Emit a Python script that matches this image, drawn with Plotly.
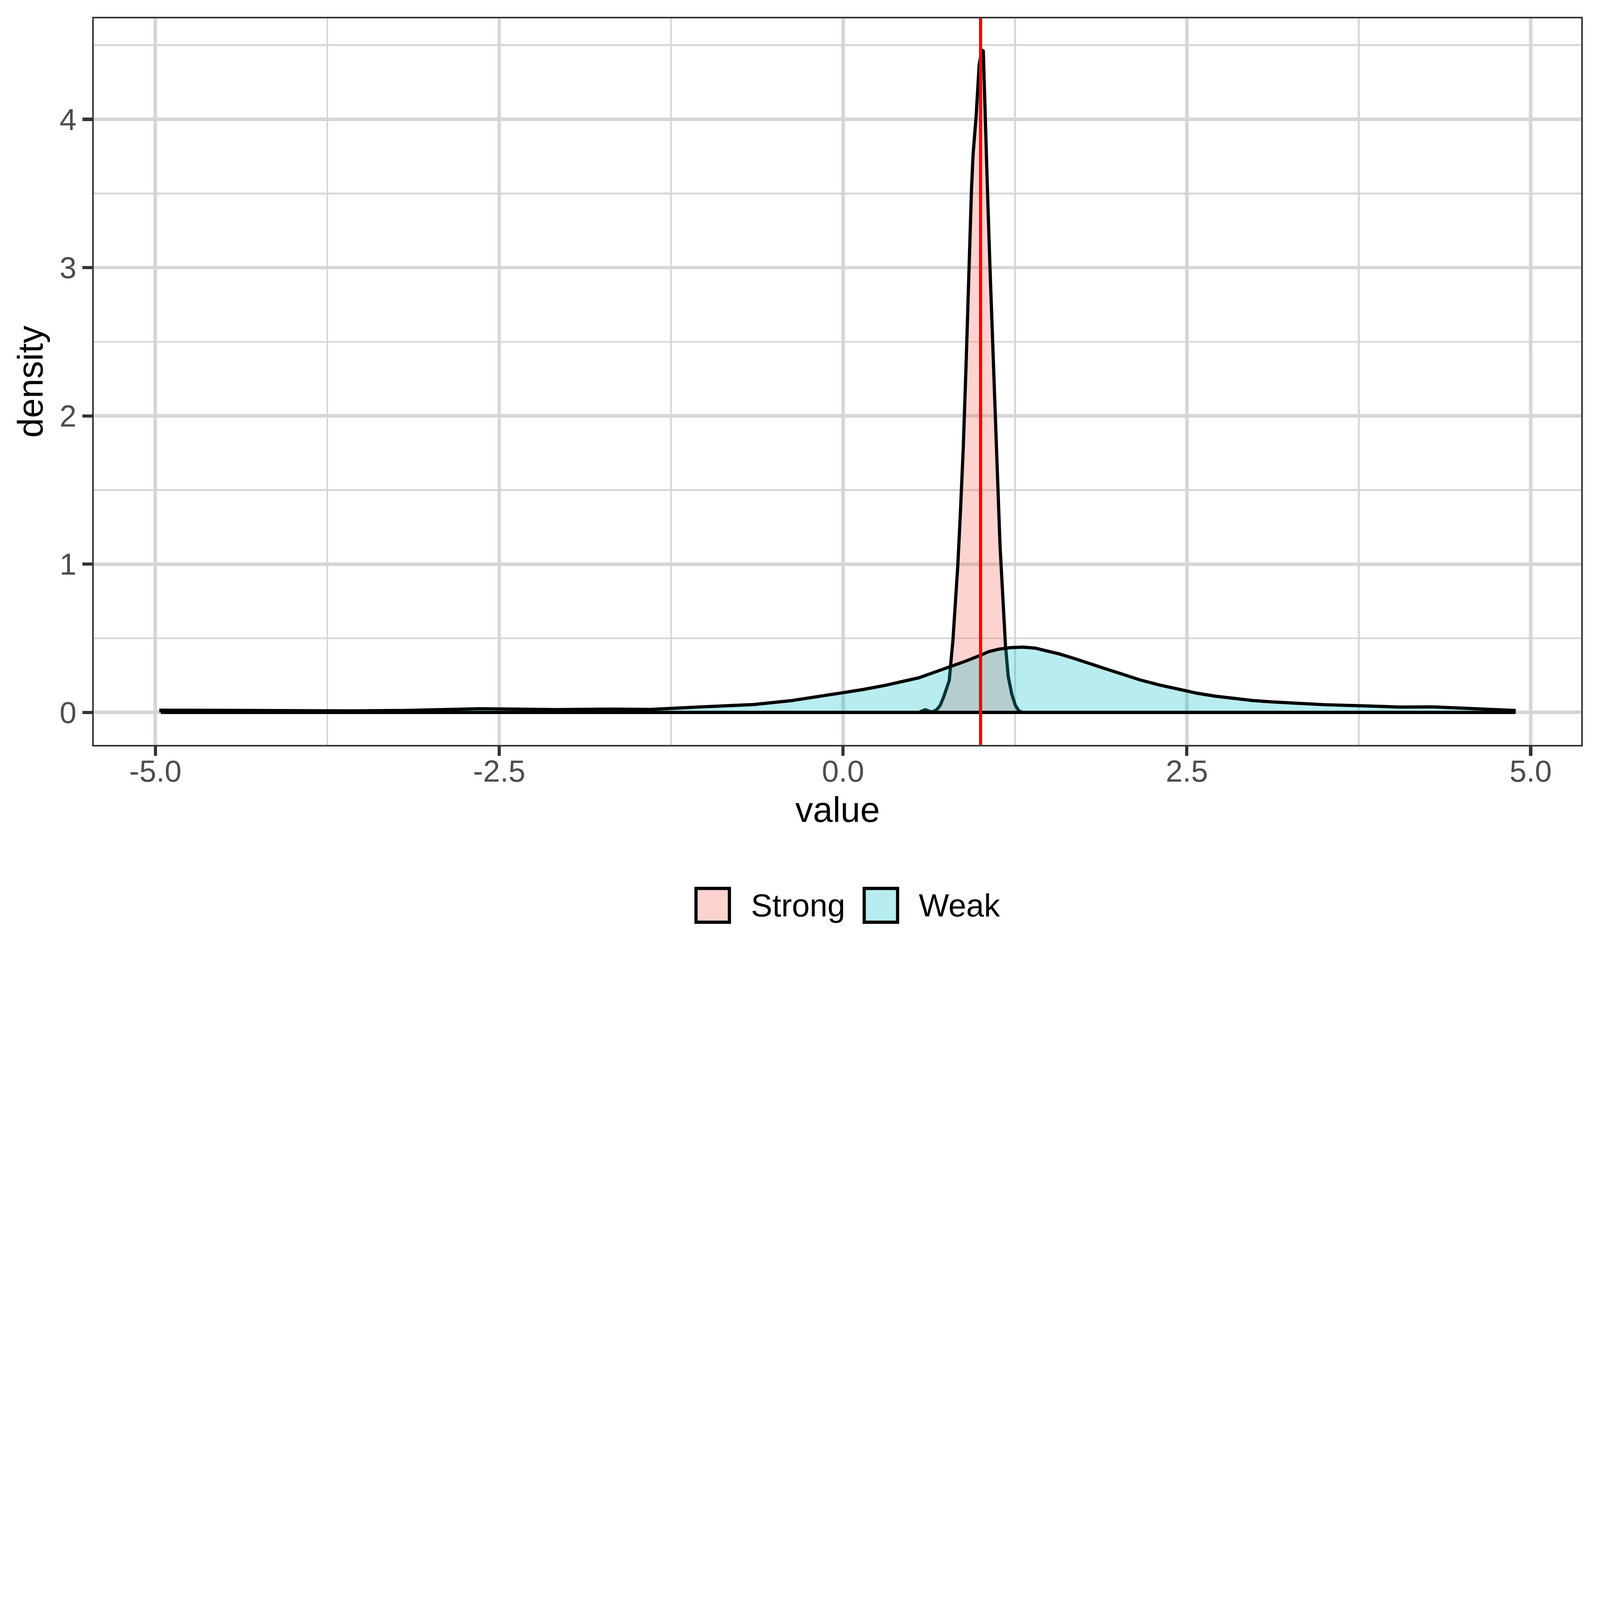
import plotly.graph_objects as go

# Density of "value" for the two groups
weak_x = [-4.96, -4.60, -4.08, -3.57, -3.19, -2.88, -2.64, -2.37, -2.09, -1.68, -1.40, -1.06,
          -0.82, -0.65, -0.37, -0.13, 0.00, 0.15, 0.31, 0.55, 0.72, 0.89, 1.00, 1.06, 1.13,
          1.22, 1.31, 1.40, 1.47, 1.57, 1.68, 1.80, 1.92, 2.04, 2.16, 2.30, 2.43, 2.57, 2.71,
          2.84, 2.98, 3.13, 3.29, 3.50, 3.75, 4.05, 4.29, 4.56, 4.84, 4.88]
weak_y = [0.015, 0.014, 0.010, 0.010, 0.013, 0.022, 0.025, 0.022, 0.019, 0.022, 0.020, 0.036,
          0.045, 0.053, 0.080, 0.111, 0.133, 0.155, 0.183, 0.233, 0.287, 0.345, 0.386, 0.410, 0.426,
          0.437, 0.440, 0.433, 0.417, 0.395, 0.364, 0.330, 0.291, 0.255, 0.219, 0.185, 0.157, 0.130, 0.109,
          0.093, 0.080, 0.070, 0.062, 0.052, 0.045, 0.036, 0.037, 0.028, 0.015, 0.013]

strong_x = [-4.96, 0.551, 0.571, 0.598, 0.620, 0.649, 0.681, 0.707, 0.733, 0.753, 0.772, 0.799,
            0.818, 0.835, 0.854, 0.874, 0.895, 0.914, 0.934, 0.946, 0.968, 0.990, 1.009, 1.020,
            1.029, 1.050, 1.068, 1.087, 1.103, 1.123, 1.142, 1.162, 1.181, 1.201, 1.227, 1.253,
            1.279, 1.305, 4.88]
strong_y = [0, 0, 0.008, 0.018, 0.010, 0.003, 0.018, 0.048, 0.108, 0.169, 0.214, 0.485,
            0.756, 0.997, 1.358, 1.780, 2.352, 3.015, 3.527, 3.768, 4.024, 4.370, 4.467, 4.460,
            4.130, 3.530, 3.015, 2.500, 1.990, 1.600, 1.117, 0.756, 0.455, 0.244, 0.123, 0.048,
            0.010, 0, 0]

groups = ["Strong", "Weak"]
vline_x = 1.0

x_tick_vals = [-5.0, -2.5, 0.0, 2.5, 5.0]
x_tick_text = ["-5.0", "-2.5", "0.0", "2.5", "5.0"]
x_minor_vals = [-3.75, -1.25, 1.25, 3.75]
y_tick_vals = [0, 1, 2, 3, 4]
y_tick_text = ["0", "1", "2", "3", "4"]
y_minor_vals = [0.5, 1.5, 2.5, 3.5, 4.5]

W, H = 8000, 4800
L, R, T, B = 469, 93, 92, 1076     # plot panel margins, pixels
FONT = "Liberation Sans, Arial, sans-serif"

fill_colors = {"Strong": "rgba(248, 118, 109, 0.32)", "Weak": "rgba(0, 191, 196, 0.28)"}
grid_color = "#D6D6D6"
frame_color = "#333333"


def outline(xs, ys):
    """Close the density curve along the baseline, like ggplot's full outline."""
    px = [xs[0]] + list(xs) + [xs[-1], xs[0]]
    py = [0] + list(ys) + [0, 0]
    return px, py


fig = go.Figure()

for name, xs, ys in [("Strong", strong_x, strong_y), ("Weak", weak_x, weak_y)]:
    px, py = outline(xs, ys)
    fig.add_trace(go.Scatter(
        x=px, y=py, mode="lines", fill="toself",
        fillcolor=fill_colors[name],
        line=dict(color="black", width=16),
        name=name, showlegend=False, hoverinfo="skip",
    ))

# red reference line
fig.add_vline(x=vline_x, line=dict(color="#FF0000", width=16), layer="above")

axis_common = dict(
    showline=True, mirror=True, linecolor=frame_color, linewidth=8,
    showgrid=True, gridcolor=grid_color, gridwidth=17,
    zeroline=False, ticks="outside", ticklen=48, tickwidth=16, tickcolor=frame_color,
    tickfont=dict(family=FONT, size=152, color="#4D4D4D"),
)

fig.update_xaxes(
    range=[-5.448, 5.369], tickmode="array", tickvals=x_tick_vals, ticktext=x_tick_text,
    ticklabelstandoff=-55,
    minor=dict(tickmode="array", tickvals=x_minor_vals, showgrid=True,
               gridcolor=grid_color, gridwidth=9, ticks=""),
    title=dict(text="value", font=dict(family=FONT, size=177, color="black"), standoff=50),
    **axis_common,
)
fig.update_yaxes(
    range=[-0.2186, 4.681], tickmode="array", tickvals=y_tick_vals, ticktext=y_tick_text,
    minor=dict(tickmode="array", tickvals=y_minor_vals, showgrid=True,
               gridcolor=grid_color, gridwidth=9, ticks=""),
    title=dict(text="density", font=dict(family=FONT, size=177, color="black"), standoff=27),
    **axis_common,
)

# legend drawn by hand so the keys keep ggplot's size
plot_w = W - L - R
plot_h = H - T - B


def px_to_paper(xp, yp):
    return (xp - L) / plot_w, (H - B - yp) / plot_h


label_x = {"Strong": 3753, "Weak": 4592}
key_left = {"Strong": 3480, "Weak": 4321}
for name in groups:
    x0, y0 = px_to_paper(key_left[name], 4611)
    x1, y1 = px_to_paper(key_left[name] + 167, 4442)
    fig.add_shape(type="rect", xref="paper", yref="paper", x0=x0, y0=y0, x1=x1, y1=y1,
                  fillcolor=fill_colors[name], line=dict(color="black", width=16))
    tx, ty = px_to_paper(label_x[name], 4527)
    fig.add_annotation(x=tx, y=ty, xref="paper", yref="paper", text=name, showarrow=False,
                       xanchor="left", yanchor="middle",
                       font=dict(family=FONT, size=160, color="black"))

fig.update_layout(
    width=W, height=H,
    margin=dict(l=L, r=R, t=T, b=B),
    plot_bgcolor="white", paper_bgcolor="white",
    showlegend=False,
)

# shrink the page if the browser window is smaller than the 8000x4800 figure
fit_page = ("var s = Math.min(window.innerWidth / 8000, window.innerHeight / 4800, 1);"
            "document.body.style.margin = '0';"
            "document.body.style.zoom = s;")

fig.write_html("out.html", post_script=fit_page, config={"displayModeBar": False})
